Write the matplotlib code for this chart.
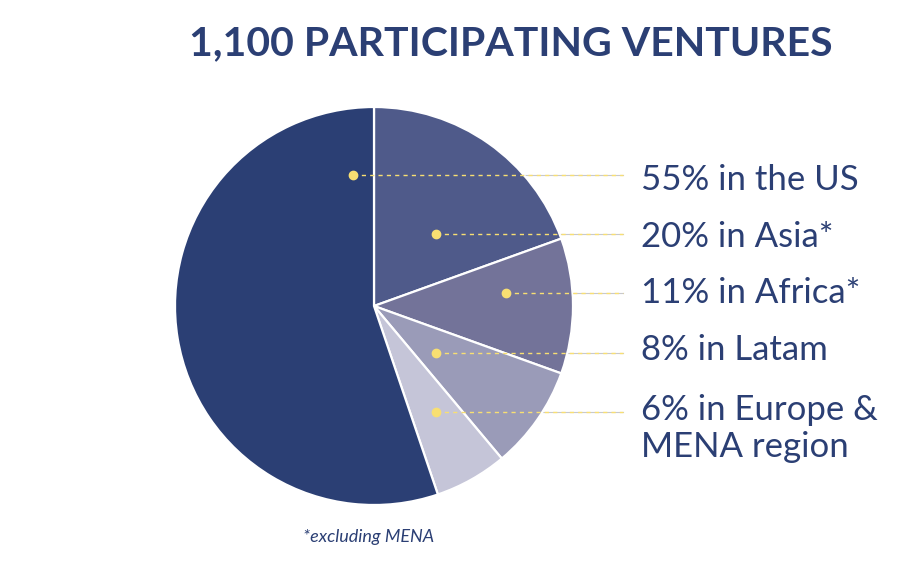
import matplotlib.pyplot as plt

# data (slice sizes; labels carry the rounded shares)
regions = ['Asia', 'Africa', 'Latam', 'Europe & MENA', 'US']
shares = [19.5, 11.0, 8.4, 5.9, 55.2]
colors = ['#4f5a8a', '#737399', '#9a9bb8', '#c5c5d8', '#2b3f74']

labels = ['55% in the US', '20% in Asia*', '11% in Africa*', '8% in Latam',
          '6% in Europe &', 'MENA region']

navy = '#2b3f74'
yellow = '#f8df72'

W, H = 907, 570
fig = plt.figure(figsize=(W / 100, H / 100), dpi=100)
ax = fig.add_axes([0, 0, 1, 1])

# pie in pixel coordinates (y measured from bottom)
cx, cy, r = 374, H - 306, 199
ax.pie(shares, colors=colors, startangle=90, counterclock=False,
       center=(cx, cy), radius=r, frame=True,
       wedgeprops=dict(edgecolor='white', linewidth=1.6))
ax.set_xlim(0, W)
ax.set_ylim(0, H)
ax.set_aspect('equal')
ax.axis('off')

# leader lines: dot x position and row y (pixels from top)
dot_x = [353, 436, 506, 436, 436]
row_y = [175, 234, 293, 353, 412]
line_end = 623
for x, y in zip(dot_x, row_y):
    yy = H - y
    ax.plot([x, line_end], [yy, yy], color='#c8c8cc', lw=0.8, zorder=0.5)
    ax.plot([x, line_end], [yy, yy], color=yellow, lw=1.0,
            dashes=(3, 3), zorder=3)
    ax.plot(x, yy, 'o', color=yellow, ms=6, zorder=4)

label_y = [180, 237, 293, 350, 410, 447]
for lab, y in zip(labels, label_y):
    ax.text(641, H - y, lab, fontsize=25, color=navy, family='Lato',
            va='center', ha='left')

fig.text(511 / W, 1 - 44 / H, '1,100 PARTICIPATING VENTURES', fontsize=29.5,
         fontweight='bold', color=navy, family='Lato', ha='center', va='center')
fig.text(369 / W, 1 - 537 / H, '*excluding MENA', fontsize=13,
         style='italic', color=navy, family='Lato', ha='center', va='center')

fig.savefig('out.png', dpi=100)
